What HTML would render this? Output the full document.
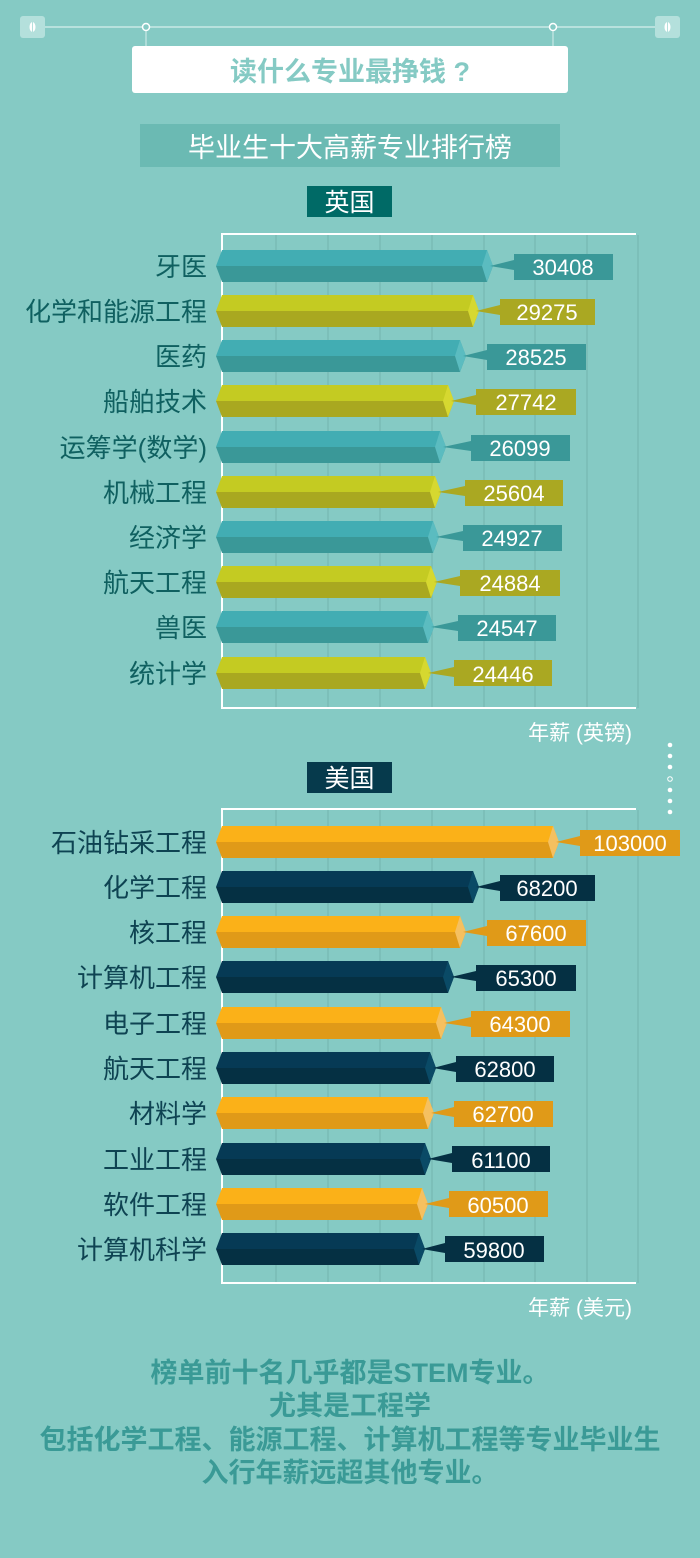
<!DOCTYPE html>
<html><head><meta charset="utf-8"><style>
body{margin:0;width:700px;height:1558px;background:#85cac4;overflow:hidden;font-family:"Liberation Sans","Noto Sans CJK SC",sans-serif}
svg{display:block}
.l{font-size:26px;fill:#0f6060;text-anchor:end;font-family:"Liberation Sans","Noto Sans CJK SC",sans-serif}
.u{fill:#0e4352}
.v{font-size:22px;fill:#fff;text-anchor:middle;font-family:"Liberation Sans","Noto Sans CJK SC",sans-serif}
</style></head><body>
<svg width="700" height="1558" viewBox="0 0 700 1558" xmlns="http://www.w3.org/2000/svg">
<line x1="34" y1="27" x2="666" y2="27" stroke="#d6efec" stroke-width="1.2"/>
<rect x="20" y="16" width="25" height="22" rx="3" fill="#b4e0dc"/>
<rect x="655" y="16" width="25" height="22" rx="3" fill="#b4e0dc"/>
<ellipse cx="32.5" cy="27" rx="3" ry="5" fill="#fff"/><line x1="32.5" y1="22" x2="32.5" y2="32" stroke="#b4e0dc" stroke-width="1"/>
<ellipse cx="667.5" cy="27" rx="3" ry="5" fill="#fff"/><line x1="667.5" y1="22" x2="667.5" y2="32" stroke="#b4e0dc" stroke-width="1"/>
<line x1="146" y1="30" x2="146" y2="48" stroke="#d6efec"/><line x1="553" y1="30" x2="553" y2="48" stroke="#d6efec"/>
<circle cx="146" cy="27" r="3.5" fill="#85cac4" stroke="#fff" stroke-width="1.5"/>
<circle cx="553" cy="27" r="3.5" fill="#85cac4" stroke="#fff" stroke-width="1.5"/>
<rect x="132" y="46" width="436" height="47" rx="3" fill="#fff"/>
<text x="350" y="81" text-anchor="middle" font-size="27" font-weight="bold" fill="#85cac4" font-family="Liberation Sans,Noto Sans CJK SC,sans-serif">读什么专业最挣钱 ?</text>
<rect x="140" y="124" width="420" height="43" fill="#6bbab3"/>
<text x="350" y="157" text-anchor="middle" font-size="27" fill="#fff" font-family="Liberation Sans,Noto Sans CJK SC,sans-serif">毕业生十大高薪专业排行榜</text>
<rect x="307" y="186" width="85" height="31" fill="#006a66"/>
<text x="349.5" y="211" text-anchor="middle" font-size="25" fill="#fff" font-family="Liberation Sans,Noto Sans CJK SC,sans-serif">英国</text>
<rect x="307" y="762" width="85" height="31" fill="#063a4c"/>
<text x="349.5" y="787" text-anchor="middle" font-size="25" fill="#fff" font-family="Liberation Sans,Noto Sans CJK SC,sans-serif">美国</text>

<g stroke="#74b4ae" stroke-width="1">
<line x1="276" y1="235" x2="276" y2="708"/><line x1="328" y1="235" x2="328" y2="708"/><line x1="380" y1="235" x2="380" y2="708"/><line x1="432" y1="235" x2="432" y2="708"/><line x1="484" y1="235" x2="484" y2="708"/><line x1="535" y1="235" x2="535" y2="708"/><line x1="587" y1="235" x2="587" y2="708"/><line x1="638" y1="235" x2="638" y2="708"/>
<line x1="276" y1="810" x2="276" y2="1283"/><line x1="328" y1="810" x2="328" y2="1283"/><line x1="380" y1="810" x2="380" y2="1283"/><line x1="432" y1="810" x2="432" y2="1283"/><line x1="484" y1="810" x2="484" y2="1283"/><line x1="535" y1="810" x2="535" y2="1283"/><line x1="587" y1="810" x2="587" y2="1283"/><line x1="638" y1="810" x2="638" y2="1283"/>
</g>
<g stroke="#fff" stroke-width="2" fill="none">
<polyline points="636,234 222,234 222,708 636,708"/>
<polyline points="636,809 222,809 222,1283 636,1283"/>
</g>
<text x="632" y="740" text-anchor="end" font-size="21" fill="#fff" font-family="Liberation Sans,Noto Sans CJK SC,sans-serif">年薪 (英镑)</text>
<text x="632" y="1315" text-anchor="end" font-size="21" fill="#fff" font-family="Liberation Sans,Noto Sans CJK SC,sans-serif">年薪 (美元)</text>
<g fill="#fff"><circle cx="670" cy="745" r="2.3"/><circle cx="670" cy="756" r="2.3"/><circle cx="670" cy="767" r="2.3"/><circle cx="670" cy="779" r="2.3" fill="none" stroke="#fff" stroke-width="1"/><circle cx="670" cy="790" r="2.3"/><circle cx="670" cy="801" r="2.3"/><circle cx="670" cy="812" r="2.3"/></g>

<g>
<polygon points="216,266 222,250 487,250 493,266" fill="#42adb3"/><polygon points="216,266 222,282 487,282 493,266" fill="#3a9898"/><polygon points="487,250 493,266 487,282 482,266" fill="#5bbcc0"/>
<polygon points="490,266 514,260 514,270" fill="#3a9898"/><rect x="514" y="254" width="99" height="26" fill="#3a9898"/><text class="v" x="563" y="275">30408</text><text class="l" x="207" y="276">牙医</text>
</g>
<g>
<polygon points="216,311 222,295 473,295 479,311" fill="#c4cb22"/><polygon points="216,311 222,327 473,327 479,311" fill="#a9a820"/><polygon points="473,295 479,311 473,327 468,311" fill="#d6d830"/>
<polygon points="476,311 500,305 500,315" fill="#aaa822"/><rect x="500" y="299" width="95" height="26" fill="#aaa822"/><text class="v" x="547" y="320">29275</text><text class="l" x="207" y="321">化学和能源工程</text>
</g>
<g>
<polygon points="216,356 222,340 460,340 466,356" fill="#42adb3"/><polygon points="216,356 222,372 460,372 466,356" fill="#3a9898"/><polygon points="460,340 466,356 460,372 455,356" fill="#5bbcc0"/>
<polygon points="463,356 487,350 487,360" fill="#3a9898"/><rect x="487" y="344" width="99" height="26" fill="#3a9898"/><text class="v" x="536" y="365">28525</text><text class="l" x="207" y="366">医药</text>
</g>
<g>
<polygon points="216,401 222,385 448,385 454,401" fill="#c4cb22"/><polygon points="216,401 222,417 448,417 454,401" fill="#a9a820"/><polygon points="448,385 454,401 448,417 443,401" fill="#d6d830"/>
<polygon points="451,401 476,395 476,405" fill="#aaa822"/><rect x="476" y="389" width="100" height="26" fill="#aaa822"/><text class="v" x="526" y="410">27742</text><text class="l" x="207" y="411">船舶技术</text>
</g>
<g>
<polygon points="216,447 222,431 440,431 446,447" fill="#42adb3"/><polygon points="216,447 222,463 440,463 446,447" fill="#3a9898"/><polygon points="440,431 446,447 440,463 435,447" fill="#5bbcc0"/>
<polygon points="443,447 471,441 471,451" fill="#3a9898"/><rect x="471" y="435" width="99" height="26" fill="#3a9898"/><text class="v" x="520" y="456">26099</text><text class="l" x="207" y="457">运筹学(数学)</text>
</g>
<g>
<polygon points="216,492 222,476 435,476 441,492" fill="#c4cb22"/><polygon points="216,492 222,508 435,508 441,492" fill="#a9a820"/><polygon points="435,476 441,492 435,508 430,492" fill="#d6d830"/>
<polygon points="438,492 465,486 465,496" fill="#aaa822"/><rect x="465" y="480" width="98" height="26" fill="#aaa822"/><text class="v" x="514" y="501">25604</text><text class="l" x="207" y="502">机械工程</text>
</g>
<g>
<polygon points="216,537 222,521 433,521 439,537" fill="#42adb3"/><polygon points="216,537 222,553 433,553 439,537" fill="#3a9898"/><polygon points="433,521 439,537 433,553 428,537" fill="#5bbcc0"/>
<polygon points="436,537 463,531 463,541" fill="#3a9898"/><rect x="463" y="525" width="99" height="26" fill="#3a9898"/><text class="v" x="512" y="546">24927</text><text class="l" x="207" y="547">经济学</text>
</g>
<g>
<polygon points="216,582 222,566 431,566 437,582" fill="#c4cb22"/><polygon points="216,582 222,598 431,598 437,582" fill="#a9a820"/><polygon points="431,566 437,582 431,598 426,582" fill="#d6d830"/>
<polygon points="434,582 460,576 460,586" fill="#aaa822"/><rect x="460" y="570" width="100" height="26" fill="#aaa822"/><text class="v" x="510" y="591">24884</text><text class="l" x="207" y="592">航天工程</text>
</g>
<g>
<polygon points="216,627 222,611 428,611 434,627" fill="#42adb3"/><polygon points="216,627 222,643 428,643 434,627" fill="#3a9898"/><polygon points="428,611 434,627 428,643 423,627" fill="#5bbcc0"/>
<polygon points="431,627 458,621 458,631" fill="#3a9898"/><rect x="458" y="615" width="98" height="26" fill="#3a9898"/><text class="v" x="507" y="636">24547</text><text class="l" x="207" y="637">兽医</text>
</g>
<g>
<polygon points="216,673 222,657 425,657 431,673" fill="#c4cb22"/><polygon points="216,673 222,689 425,689 431,673" fill="#a9a820"/><polygon points="425,657 431,673 425,689 420,673" fill="#d6d830"/>
<polygon points="428,673 454,667 454,677" fill="#aaa822"/><rect x="454" y="660" width="98" height="26" fill="#aaa822"/><text class="v" x="503" y="682">24446</text><text class="l" x="207" y="683">统计学</text>
</g>

<g>
<polygon points="216,842 222,826 553,826 559,842" fill="#fbb118"/><polygon points="216,842 222,858 553,858 559,842" fill="#e09a18"/><polygon points="553,826 559,842 553,858 548,842" fill="#f5c060"/>
<polygon points="556,842 580,836 580,846" fill="#e09a18"/><rect x="580" y="830" width="100" height="26" fill="#e09a18"/><text class="v" x="630" y="851">103000</text><text class="l u" x="207" y="852">石油钻采工程</text>
</g>
<g>
<polygon points="216,887 222,871 473,871 479,887" fill="#063a55"/><polygon points="216,887 222,903 473,903 479,887" fill="#053043"/><polygon points="473,871 479,887 473,903 468,887" fill="#0a4a66"/>
<polygon points="476,887 500,881 500,891" fill="#053043"/><rect x="500" y="875" width="95" height="26" fill="#053043"/><text class="v" x="547" y="896">68200</text><text class="l u" x="207" y="897">化学工程</text>
</g>
<g>
<polygon points="216,932 222,916 460,916 466,932" fill="#fbb118"/><polygon points="216,932 222,948 460,948 466,932" fill="#e09a18"/><polygon points="460,916 466,932 460,948 455,932" fill="#f5c060"/>
<polygon points="463,932 487,926 487,936" fill="#e09a18"/><rect x="487" y="920" width="99" height="26" fill="#e09a18"/><text class="v" x="536" y="941">67600</text><text class="l u" x="207" y="942">核工程</text>
</g>
<g>
<polygon points="216,977 222,961 448,961 454,977" fill="#063a55"/><polygon points="216,977 222,993 448,993 454,977" fill="#053043"/><polygon points="448,961 454,977 448,993 443,977" fill="#0a4a66"/>
<polygon points="451,977 476,971 476,981" fill="#053043"/><rect x="476" y="965" width="100" height="26" fill="#053043"/><text class="v" x="526" y="986">65300</text><text class="l u" x="207" y="987">计算机工程</text>
</g>
<g>
<polygon points="216,1023 222,1007 441,1007 447,1023" fill="#fbb118"/><polygon points="216,1023 222,1039 441,1039 447,1023" fill="#e09a18"/><polygon points="441,1007 447,1023 441,1039 436,1023" fill="#f5c060"/>
<polygon points="444,1023 471,1017 471,1027" fill="#e09a18"/><rect x="471" y="1011" width="99" height="26" fill="#e09a18"/><text class="v" x="520" y="1032">64300</text><text class="l u" x="207" y="1033">电子工程</text>
</g>
<g>
<polygon points="216,1068 222,1052 430,1052 436,1068" fill="#063a55"/><polygon points="216,1068 222,1084 430,1084 436,1068" fill="#053043"/><polygon points="430,1052 436,1068 430,1084 425,1068" fill="#0a4a66"/>
<polygon points="433,1068 456,1062 456,1072" fill="#053043"/><rect x="456" y="1056" width="98" height="26" fill="#053043"/><text class="v" x="505" y="1077">62800</text><text class="l u" x="207" y="1078">航天工程</text>
</g>
<g>
<polygon points="216,1113 222,1097 428,1097 434,1113" fill="#fbb118"/><polygon points="216,1113 222,1129 428,1129 434,1113" fill="#e09a18"/><polygon points="428,1097 434,1113 428,1129 423,1113" fill="#f5c060"/>
<polygon points="431,1113 454,1107 454,1117" fill="#e09a18"/><rect x="454" y="1101" width="99" height="26" fill="#e09a18"/><text class="v" x="503" y="1122">62700</text><text class="l u" x="207" y="1123">材料学</text>
</g>
<g>
<polygon points="216,1159 222,1143 425,1143 431,1159" fill="#063a55"/><polygon points="216,1159 222,1175 425,1175 431,1159" fill="#053043"/><polygon points="425,1143 431,1159 425,1175 420,1159" fill="#0a4a66"/>
<polygon points="428,1159 452,1153 452,1163" fill="#053043"/><rect x="452" y="1146" width="98" height="26" fill="#053043"/><text class="v" x="501" y="1168">61100</text><text class="l u" x="207" y="1169">工业工程</text>
</g>
<g>
<polygon points="216,1204 222,1188 422,1188 428,1204" fill="#fbb118"/><polygon points="216,1204 222,1220 422,1220 428,1204" fill="#e09a18"/><polygon points="422,1188 428,1204 422,1220 417,1204" fill="#f5c060"/>
<polygon points="425,1204 449,1198 449,1208" fill="#e09a18"/><rect x="449" y="1191" width="99" height="26" fill="#e09a18"/><text class="v" x="498" y="1213">60500</text><text class="l u" x="207" y="1214">软件工程</text>
</g>
<g>
<polygon points="216,1249 222,1233 419,1233 425,1249" fill="#063a55"/><polygon points="216,1249 222,1265 419,1265 425,1249" fill="#053043"/><polygon points="419,1233 425,1249 419,1265 414,1249" fill="#0a4a66"/>
<polygon points="422,1249 445,1243 445,1253" fill="#053043"/><rect x="445" y="1236" width="99" height="26" fill="#053043"/><text class="v" x="494" y="1258">59800</text><text class="l u" x="207" y="1259">计算机科学</text>
</g>

<g font-size="27" font-weight="bold" fill="#3a9a96" text-anchor="middle" font-family="Liberation Sans,Noto Sans CJK SC,sans-serif">
<text x="350" y="1382">榜单前十名几乎都是STEM专业。</text>
<text x="350" y="1415">尤其是工程学</text>
<text x="350" y="1449">包括化学工程、能源工程、计算机工程等专业毕业生</text>
<text x="350" y="1482">入行年薪远超其他专业。</text>
</g>
</svg>
</body></html>
